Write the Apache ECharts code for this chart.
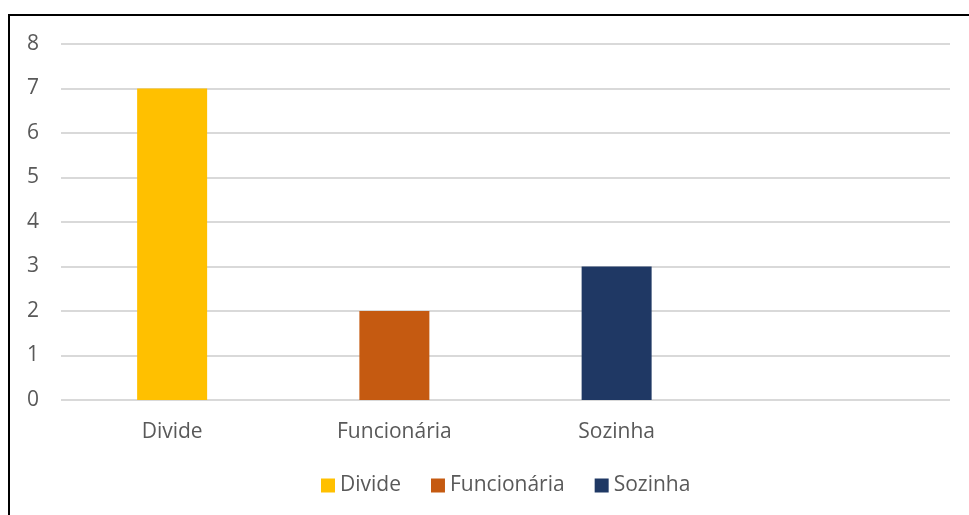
<!DOCTYPE html>
<html>
<head>
<meta charset="utf-8">
<script src="https://cdn.jsdelivr.net/npm/echarts@6/dist/echarts.min.js"></script>
<style>
  html, body { margin: 0; padding: 0; background: #fff; }
  #chart { width: 969px; height: 515px; }
</style>
</head>
<body>
<div id="chart"></div>
<script>
// categories (the 4th slot is empty in the original chart)
const categories = ["Divide", "Funcionária", "Sozinha", ""];
const seriesNames = ["Divide", "Funcionária", "Sozinha"];
const divideValues = [7, null, null, null];
const funcionariaValues = [null, 2, null, null];
const sozinhaValues = [null, null, 3, null];
const colors = ["#FFC000", "#C55A11", "#1F3864"];

const chart = echarts.init(document.getElementById("chart"));
const font = "'Open Sans', 'Noto Sans', sans-serif";

const seriesData = [divideValues, funcionariaValues, sozinhaValues];

const option = {
  animation: false,
  textStyle: { fontFamily: font },
  graphic: [
    {
      type: "rect",
      shape: { x: 9, y: 15, width: 1000, height: 560 },
      style: { fill: "none", stroke: "#000", lineWidth: 2 },
      silent: true,
    },
  ],
  grid: { left: 61, right: 19, top: 44, bottom: 115 },
  legend: {
    bottom: 14,
    left: 316,
    itemWidth: 14,
    itemHeight: 14,
    itemGap: 30,
    icon: "rect",
    textStyle: { color: "#595959", fontSize: 21, fontFamily: font },
    data: seriesNames,
  },
  xAxis: {
    type: "category",
    data: categories,
    axisLine: { show: false },
    axisTick: { show: false },
    axisLabel: { color: "#595959", fontSize: 21, margin: 22, fontFamily: font },
  },
  yAxis: {
    type: "value",
    min: 0,
    max: 8,
    interval: 1,
    axisLine: { show: false },
    axisTick: { show: false },
    axisLabel: { color: "#595959", fontSize: 21, margin: 22, fontFamily: font },
    splitLine: { lineStyle: { color: "#d9d9d9", width: 2 } },
  },
  series: seriesNames.map((name, i) => ({
    name: name,
    type: "bar",
    stack: "total",
    barWidth: 70,
    data: seriesData[i],
    itemStyle: { color: colors[i] },
  })),
};

chart.setOption(option);
</script>
</body>
</html>
